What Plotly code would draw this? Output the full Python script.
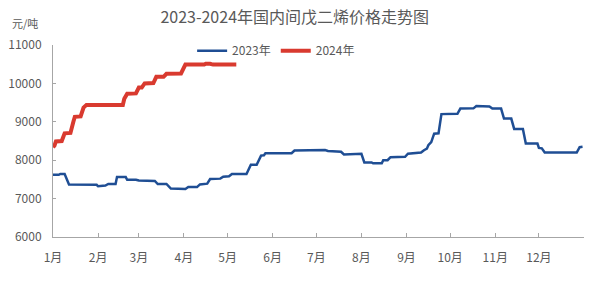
import plotly.graph_objects as go

# 2024 series (month-day, value)
d24 = ["01-01","01-02","01-03","01-07","01-09","01-13","01-15","01-16","01-20","01-22","01-24",
       "02-18","02-19","02-21","02-27","03-01","03-03","03-05","03-11","03-13","03-18","03-20",
       "03-30","04-02","04-15","04-16","04-19","04-21","05-07"]
v24 = [8340,8380,8490,8500,8700,8710,9000,9130,9140,9370,9440,
       9440,9600,9730,9740,9890,9890,10000,10010,10170,10170,10250,
       10260,10490,10490,10510,10510,10490,10490]

# 2023 series (month-day, value)
d23 = ["01-01","01-05","01-06","01-09","01-12","01-31","02-01","02-05","02-06","02-08","02-13",
       "02-14","02-20","02-21","02-27","03-01","03-12","03-14","03-20","03-23","04-02","04-04",
       "04-10","04-12","04-17","04-19","04-26","04-28","05-02","05-04","05-14","05-17","05-21",
       "05-24","05-26","05-27","06-14","06-16","07-06","07-07","07-09","07-18","07-20","07-25",
       "07-26","08-01","08-03","08-08","08-09","08-15","08-16","08-19","08-21","08-31","09-02",
       "09-05","09-06","09-11","09-13","09-15","09-16","09-18","09-20","09-23","09-25","10-06",
       "10-08","10-17","10-19","10-28","10-30","11-05","11-07","11-12","11-14","11-20","11-22",
       "11-30","12-01","12-03","12-05","12-27","12-29","12-31"]
v23 = [7620,7620,7640,7640,7370,7360,7320,7330,7340,7380,7380,
       7560,7560,7490,7490,7470,7460,7380,7380,7260,7250,7300,
       7300,7370,7390,7510,7520,7570,7580,7640,7640,7880,7880,
       8120,8130,8180,8180,8250,8250,8265,8240,8220,8150,8150,
       8165,8165,7940,7940,7920,7920,8000,8000,8080,8090,8170,
       8180,8200,8200,8260,8300,8390,8470,8690,8700,9200,9210,
       9345,9350,9410,9400,9345,9345,9085,9085,8815,8815,8432,
       8432,8320,8310,8200,8200,8340,8350]

months = ["1月","2月","3月","4月","5月","6月","7月","8月","9月","10月","11月","12月",""]
month_starts = ["2023-%02d-01" % m for m in range(1, 13)] + ["2024-01-01"]
y_ticks = [6000, 7000, 8000, 9000, 10000, 11000]
y_labels = [str(v) for v in y_ticks]

x23 = ["2023-" + d for d in d23]
x24 = ["2023-" + d for d in d24]  # plotted on a shared Jan–Dec axis

FONT = "Noto Sans CJK SC, Microsoft YaHei, sans-serif"
GREY = "#595959"

fig = go.Figure()
fig.add_trace(go.Scatter(x=x23, y=v23, mode="lines", name="2023年",
                         line=dict(color="#1f4e94", width=2.5)))
fig.add_trace(go.Scatter(x=x24, y=v24, mode="lines", name="2024年",
                         line=dict(color="#d93a2f", width=4)))

fig.update_layout(
    width=614, height=289,
    margin=dict(l=53, r=30, t=45, b=52),
    paper_bgcolor="white", plot_bgcolor="white",
    font=dict(family=FONT, size=12, color=GREY),
    title=dict(text="2023-2024年国内间戊二烯价格走势图", xref="container", x=0.48,
               xanchor="center", yref="container", y=1 - 17/289, yanchor="middle",
               font=dict(size=16, color=GREY, family=FONT)),
    showlegend=True,
    legend=dict(orientation="h", x=0.262, xanchor="left", y=0.97, yanchor="middle",
                bgcolor="rgba(0,0,0,0)", font=dict(size=12, color=GREY),
                itemwidth=30, tracegroupgap=0),
    xaxis=dict(type="date", range=["2023-01-01", "2024-01-01"],
               tickvals=month_starts, ticktext=months, automargin=False,
               showgrid=False, zeroline=False,
               showline=True, linecolor="#a6a6a6", linewidth=1,
               ticks="inside", ticklen=4, tickcolor="#a6a6a6",
               ticklabelstandoff=10,
               tickfont=dict(size=12, color=GREY)),
    yaxis=dict(range=[6000, 11000], tickvals=y_ticks, ticktext=y_labels,
               automargin=False,
               showgrid=False, zeroline=False,
               showline=True, linecolor="#a6a6a6", linewidth=1,
               ticks="inside", ticklen=3, tickcolor="#a6a6a6",
               ticklabelstandoff=8,
               tickfont=dict(size=12, color=GREY)),
)
fig.add_annotation(text="元/吨", xref="paper", yref="paper", x=-0.053, y=1 + 22/192,
                   xanchor="center", yanchor="middle", showarrow=False,
                   font=dict(size=11, color=GREY, family=FONT))

fig.write_html("out.html")
